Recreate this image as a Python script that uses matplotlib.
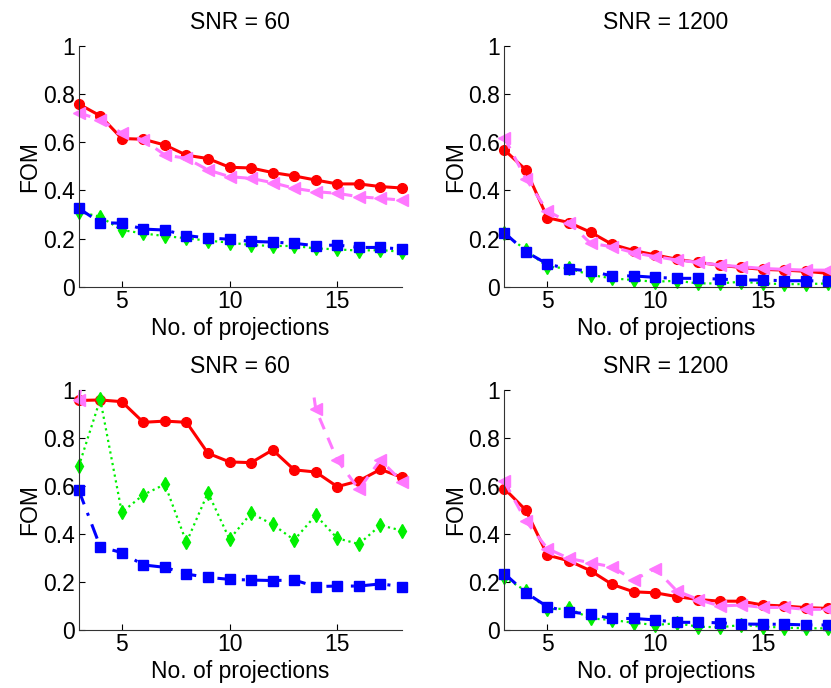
import matplotlib
matplotlib.use("Agg")
import matplotlib.pyplot as plt
from matplotlib.patches import Rectangle

plt.rcParams['font.family'] = ['Liberation Sans', 'DejaVu Sans']

x = list(range(3, 19))

titles = ["SNR = 60", "SNR = 1200", "SNR = 60", "SNR = 1200"]

# top-left
red_tl = [0.758, 0.709, 0.615, 0.612, 0.588, 0.546, 0.532, 0.496, 0.493, 0.474, 0.460, 0.443, 0.427, 0.427, 0.416, 0.410]
mag_tl = [0.722, 0.692, 0.637, 0.609, 0.547, 0.533, 0.485, 0.457, 0.450, 0.432, 0.409, 0.395, 0.388, 0.374, 0.367, 0.360]
blue_tl = [0.326, 0.267, 0.264, 0.240, 0.236, 0.213, 0.203, 0.198, 0.189, 0.186, 0.181, 0.171, 0.174, 0.164, 0.164, 0.157]
green_tl = [0.312, 0.291, 0.236, 0.222, 0.211, 0.202, 0.192, 0.184, 0.174, 0.170, 0.170, 0.160, 0.156, 0.151, 0.153, 0.146]

# top-right
red_tr = [0.568, 0.485, 0.287, 0.267, 0.227, 0.177, 0.151, 0.133, 0.115, 0.102, 0.090, 0.081, 0.073, 0.070, 0.065, 0.057]
mag_tr = [0.619, 0.448, 0.315, 0.267, 0.181, 0.167, 0.142, 0.126, 0.112, 0.102, 0.091, 0.084, 0.077, 0.073, 0.070, 0.070]
blue_tr = [0.225, 0.146, 0.095, 0.075, 0.066, 0.046, 0.046, 0.040, 0.036, 0.036, 0.033, 0.029, 0.029, 0.026, 0.026, 0.025]
green_tr = [0.222, 0.153, 0.084, 0.077, 0.050, 0.036, 0.029, 0.022, 0.026, 0.015, 0.015, 0.022, 0.015, 0.012, 0.012, 0.015]

# bottom-left
red_bl = [0.956, 0.958, 0.951, 0.865, 0.870, 0.865, 0.736, 0.700, 0.697, 0.750, 0.667, 0.658, 0.597, 0.621, 0.669, 0.636]
mag_bl = [0.956, 1.5, 1.5, 1.5, 1.5, 1.5, 1.5, 1.5, 1.5, 1.5, 1.55, 0.920, 0.708, 0.586, 0.708, 0.618]
blue_bl = [0.583, 0.347, 0.322, 0.271, 0.261, 0.233, 0.219, 0.211, 0.208, 0.206, 0.208, 0.181, 0.183, 0.183, 0.192, 0.181]
green_bl = [0.681, 0.961, 0.490, 0.563, 0.607, 0.365, 0.572, 0.378, 0.486, 0.440, 0.375, 0.478, 0.382, 0.358, 0.436, 0.414]

# bottom-right
red_br = [0.589, 0.499, 0.312, 0.288, 0.247, 0.190, 0.159, 0.155, 0.139, 0.127, 0.120, 0.120, 0.104, 0.100, 0.093, 0.090]
mag_br = [0.619, 0.454, 0.339, 0.298, 0.280, 0.263, 0.208, 0.256, 0.163, 0.127, 0.100, 0.104, 0.094, 0.094, 0.086, 0.086]
blue_br = [0.235, 0.155, 0.097, 0.076, 0.065, 0.048, 0.048, 0.042, 0.032, 0.032, 0.030, 0.025, 0.024, 0.024, 0.021, 0.021]
green_br = [0.219, 0.163, 0.086, 0.090, 0.048, 0.042, 0.030, 0.021, 0.028, 0.014, 0.011, 0.021, 0.014, 0.010, 0.007, 0.007]

panels = [
    (red_tl, green_tl, blue_tl, mag_tl),
    (red_tr, green_tr, blue_tr, mag_tr),
    (red_bl, green_bl, blue_bl, mag_bl),
    (red_br, green_br, blue_br, mag_br),
]

positions = [
    [0.0947, 0.5828, 0.389, 0.351],
    [0.6069, 0.5828, 0.389, 0.351],
    [0.0947, 0.0843, 0.389, 0.349],
    [0.6069, 0.0843, 0.389, 0.349],
]

RED = '#ff0000'
GREEN = '#00f000'
BLUE = '#0000ff'
MAG = '#ff78ff'

fig = plt.figure(figsize=(8.31, 6.88), dpi=100)
FS = 16.5

for pos, title, (r, g, b, m) in zip(positions, titles, panels):
    ax = fig.add_axes(pos)
    clip = Rectangle((-0.05, -0.05), 1.1, 1.05, transform=ax.transAxes)
    lines = []
    lines += ax.plot(x, r, '-', color=RED, lw=2.2, marker='o', ms=7, mfc=RED, mec=RED)
    lines += ax.plot(x, g, ':', color=GREEN, lw=1.6, marker='d', ms=7, mfc=GREEN, mec=GREEN)
    lines += ax.plot(x, b, '-.', color=BLUE, lw=2.2, marker='s', ms=6.5, mfc=BLUE, mec=BLUE,
                     dashes=(5, 3, 1, 3))
    lines += ax.plot(x, m, '--', color=MAG, lw=2.2, marker='<', ms=8, mfc=MAG, mec=MAG,
                     dashes=(4, 3))
    for ln in lines:
        ln.set_clip_path(clip)
    ax.set_xlim(3, 18)
    ax.set_ylim(0, 1)
    ax.set_xticks([5, 10, 15])
    ax.set_yticks([0, 0.2, 0.4, 0.6, 0.8, 1])
    ax.set_yticklabels(['0', '0.2', '0.4', '0.6', '0.8', '1'])
    ax.spines['top'].set_visible(False)
    ax.spines['right'].set_visible(False)
    ax.spines['left'].set_color('#333333')
    ax.spines['bottom'].set_color('#333333')
    ax.tick_params(direction='in', length=4, labelsize=FS, colors='#000000', pad=3)
    ax.tick_params(axis='x', pad=2)
    ax.set_title(title, fontsize=FS, pad=12)
    ax.set_xlabel('No. of projections', fontsize=FS, labelpad=3)
    ax.set_ylabel('FOM', fontsize=FS, labelpad=1)

fig.savefig('out.png', dpi=100)
